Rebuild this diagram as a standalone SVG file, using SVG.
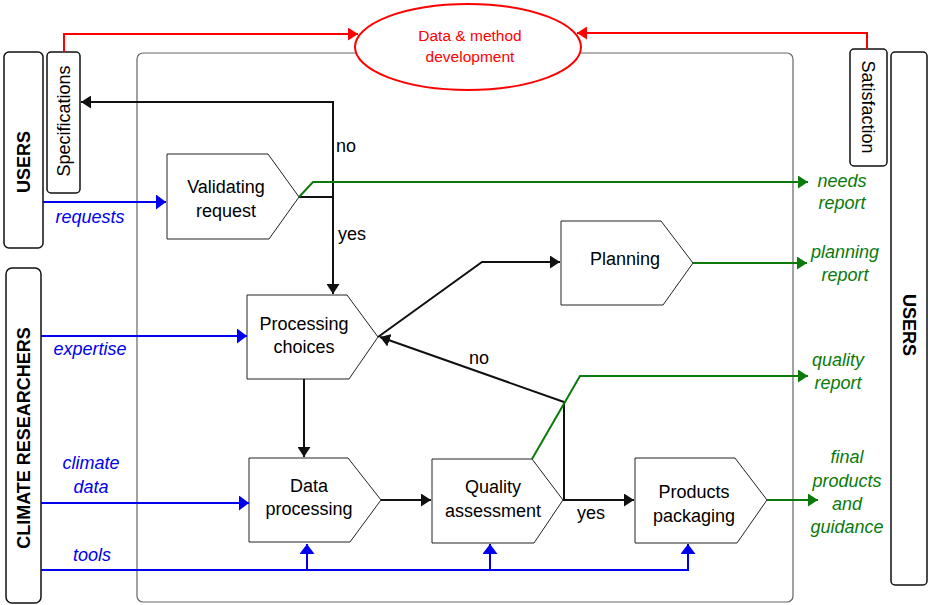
<svg xmlns="http://www.w3.org/2000/svg" width="928" height="605" viewBox="0 0 928 605">
<style>
text{font-family:"Liberation Sans",Arial,sans-serif;font-size:18px;}
.c{text-anchor:middle;}
.node{fill:#fff;stroke:#222;stroke-width:1;}
.box{fill:#fff;stroke:#111;stroke-width:1.5;}
.blk{fill:none;stroke:#111;stroke-width:2;}
.red{fill:none;stroke:#ff0000;stroke-width:2;}
.grn{fill:none;stroke:#0a7a0a;stroke-width:2;}
.blu{fill:none;stroke:#0000ee;stroke-width:2;}
.bt{fill:#0000ee;font-style:italic;}
.gt{fill:#0a7a0a;font-style:italic;}
.b{font-weight:bold;}
</style>
<defs>
<marker id="aK" markerUnits="userSpaceOnUse" markerWidth="11" markerHeight="13" refX="10" refY="6.5" orient="auto"><path d="M0,0 L10,6.5 L0,13 z" fill="#111"/></marker>
<marker id="aR" markerUnits="userSpaceOnUse" markerWidth="11" markerHeight="13" refX="10" refY="6.5" orient="auto"><path d="M0,0 L10,6.5 L0,13 z" fill="#ff0000"/></marker>
<marker id="aG" markerUnits="userSpaceOnUse" markerWidth="11" markerHeight="13" refX="10" refY="6.5" orient="auto"><path d="M0,0 L10,6.5 L0,13 z" fill="#0a7a0a"/></marker>
<marker id="aB" markerUnits="userSpaceOnUse" markerWidth="11" markerHeight="15" refX="10" refY="7.5" orient="auto"><path d="M0,0 L10,7.5 L0,15 z" fill="#0000ee"/></marker>
</defs>

<rect id="frame" x="137" y="53" width="656" height="549" rx="6" fill="none" stroke="#666" stroke-width="1.2"/>

<g id="users-left">
<rect class="box" x="4" y="52" width="39" height="196" rx="5"/>
<text class="c b" transform="translate(23,162) rotate(-90)" y="6.5">USERS</text>
</g>
<g id="specifications">
<rect class="box" x="47" y="52" width="33" height="141" rx="4"/>
<text class="c" transform="translate(63,121) rotate(-90)" y="6.5">Specifications</text>
</g>
<g id="climate-researchers">
<rect class="box" x="6" y="268" width="35" height="335" rx="6"/>
<text class="c b" transform="translate(23,438) rotate(-90)" y="6.5">CLIMATE RESEARCHERS</text>
</g>
<g id="satisfaction">
<rect class="box" x="850" y="49" width="37" height="117" rx="4"/>
<text class="c" transform="translate(868,107) rotate(90)" y="6.5">Satisfaction</text>
</g>
<g id="users-right">
<rect class="box" x="891" y="52" width="36" height="533" rx="4"/>
<text class="c b" transform="translate(909,325) rotate(90)" y="6.5">USERS</text>
</g>

<g id="data-method-development">
<ellipse cx="468" cy="47" rx="113" ry="43" fill="#fff" stroke="#ff0000" stroke-width="2"/>
<text class="c" x="470" y="41" fill="#ff0000" style="font-size:15.5px">Data &amp; method</text>
<text class="c" x="470" y="62" fill="#ff0000" style="font-size:15.5px">development</text>
</g>

<g id="validating-request">
<path class="node" d="M167,154 H268 L299,197 L269,239 H167 Z"/>
<text class="c" x="226" y="193">Validating</text>
<text class="c" x="226" y="217">request</text>
</g>
<g id="processing-choices">
<path class="node" d="M247,295 H347 L378,337 L349,379 H247 Z"/>
<text class="c" x="304" y="330">Processing</text>
<text class="c" x="304" y="353">choices</text>
</g>
<g id="planning">
<path class="node" d="M561,221 H661 L693,263 L663,305 H561 Z"/>
<text class="c" x="625" y="265">Planning</text>
</g>
<g id="data-processing">
<path class="node" d="M249,458 H348 L381,500 L350,542 H249 Z"/>
<text class="c" x="309" y="492">Data</text>
<text class="c" x="309" y="515">processing</text>
</g>
<g id="quality-assessment">
<path class="node" d="M432,459 H532 L563,500 L534,543 H432 Z"/>
<text class="c" x="493" y="493">Quality</text>
<text class="c" x="493" y="517">assessment</text>
</g>
<g id="products-packaging">
<path class="node" d="M635,458 H735 L767,500 L737,543 H635 Z"/>
<text class="c" x="694" y="498">Products</text>
<text class="c" x="694" y="522">packaging</text>
</g>

<g id="connectors">
<path class="red" d="M64,52 V34 H358" marker-end="url(#aR)"/>
<path class="red" d="M867,49 V33 H577" marker-end="url(#aR)"/>

<path class="blk" d="M299,197 H333"/>
<path class="blk" d="M333,197 V102 H81" marker-end="url(#aK)"/>
<path class="blk" d="M333,197 V294" marker-end="url(#aK)"/>
<path class="blk" d="M304,379 V457" marker-end="url(#aK)"/>
<path class="blk" d="M378,337 L482,262 H560" marker-end="url(#aK)"/>
<path class="blk" d="M381,500 H431" marker-end="url(#aK)"/>
<path class="blk" d="M563,500 H634" marker-end="url(#aK)"/>
<path class="blk" d="M564,500 V402 L380,337" marker-end="url(#aK)"/>

<path class="grn" d="M299,197 L313,182 H808" marker-end="url(#aG)"/>
<path class="grn" d="M693,263 H807" marker-end="url(#aG)"/>
<path class="grn" d="M532,459 L580,376 H808" marker-end="url(#aG)"/>
<path class="grn" d="M767,500 H818" stroke-width="1.3" marker-end="url(#aG)"/>

<path class="blu" d="M43,202 H166" marker-end="url(#aB)"/>
<path class="blu" d="M41,336 H247" marker-end="url(#aB)"/>
<path class="blu" d="M41,503 H249" marker-end="url(#aB)"/>
<path class="blu" d="M41,570 H688 V544" marker-end="url(#aB)"/>
<path class="blu" d="M307,570 V544" marker-end="url(#aB)"/>
<path class="blu" d="M490,570 V544" marker-end="url(#aB)"/>

<text x="336" y="152">no</text>
<text x="338" y="240">yes</text>
<text class="c" x="479" y="364">no</text>
<text class="c" x="591" y="519">yes</text>

<text class="c bt" x="90" y="223">requests</text>
<text class="c bt" x="90" y="355">expertise</text>
<text class="c bt" x="91" y="469">climate</text>
<text class="c bt" x="91" y="493">data</text>
<text class="c bt" x="92" y="561">tools</text>

<text class="c gt" x="842" y="187">needs</text>
<text class="c gt" x="842" y="209">report</text>
<text class="c gt" x="845" y="258">planning</text>
<text class="c gt" x="845" y="281">report</text>
<text class="c gt" x="838" y="366">quality</text>
<text class="c gt" x="838" y="389">report</text>
<text class="c gt" x="847" y="463">final</text>
<text class="c gt" x="847" y="487">products</text>
<text class="c gt" x="847" y="510">and</text>
<text class="c gt" x="847" y="533">guidance</text>
</g>
</svg>
